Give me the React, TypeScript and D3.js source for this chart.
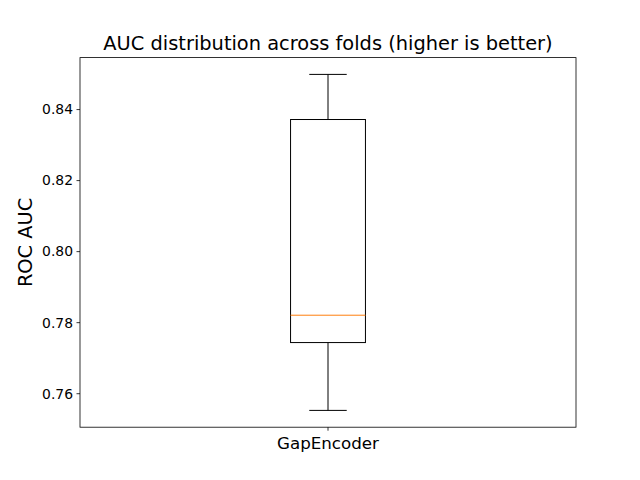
import React from "react";
import * as d3 from "d3";

const categories = ["GapEncoder"];
const whiskerLow = [0.7553];
const q1 = [0.7744];
const median = [0.7821];
const q3 = [0.8372];
const whiskerHigh = [0.8499];
const yTicks = [0.76, 0.78, 0.8, 0.82, 0.84];

const W = 640, H = 480;
const L = 80, R = 576, T = 57.6, B = 427.2;

export default function App() {
  const lo = d3.min(whiskerLow)!, hi = d3.max(whiskerHigh)!;
  const pad = (hi - lo) * 0.05;
  const y = d3.scaleLinear().domain([lo - pad, hi + pad]).range([B, T]);
  const x = d3.scaleLinear().domain([-1, 1]).range([L, R]);
  const boxHalf = 0.151; // in x units
  const font = "DejaVu Sans, sans-serif";
  return (
    <svg width={W} height={H} style={{ position: "absolute", left: 0, top: 0 }} fontFamily={font}>
      <rect x={0} y={0} width={W} height={H} fill="white" />
      <text x={(L + R) / 2} y={50} textAnchor="middle" fontSize={19.4}>
        AUC distribution across folds (higher is better)
      </text>
      {categories.map((c, i) => {
        const cx = x(i);
        const bw = x(boxHalf) - x(0);
        const cw = bw / 2;
        return (
          <g key={c} stroke="black" strokeWidth={1} fill="none">
            <line x1={cx} x2={cx} y1={y(whiskerLow[i])} y2={y(q1[i])} />
            <line x1={cx} x2={cx} y1={y(q3[i])} y2={y(whiskerHigh[i])} />
            <line x1={cx - cw} x2={cx + cw} y1={y(whiskerLow[i])} y2={y(whiskerLow[i])} />
            <line x1={cx - cw} x2={cx + cw} y1={y(whiskerHigh[i])} y2={y(whiskerHigh[i])} />
            <rect x={cx - bw} y={y(q3[i])} width={2 * bw} height={y(q1[i]) - y(q3[i])} />
            <line x1={cx - bw} x2={cx + bw} y1={y(median[i])} y2={y(median[i])} stroke="#ff7f0e" />
          </g>
        );
      })}
      <rect x={L} y={T} width={R - L} height={B - T} fill="none" stroke="black" strokeWidth={0.8} />
      {yTicks.map((t) => (
        <g key={t}>
          <line x1={L - 3.5} x2={L} y1={y(t)} y2={y(t)} stroke="black" strokeWidth={0.8} />
          <text x={L - 7} y={y(t)} dy="0.35em" textAnchor="end" fontSize={13.9}>
            {d3.format(".2f")(t)}
          </text>
        </g>
      ))}
      {categories.map((c, i) => (
        <g key={c}>
          <line x1={x(i)} x2={x(i)} y1={B} y2={B + 3.5} stroke="black" strokeWidth={0.8} />
          <text x={x(i)} y={B + 22} textAnchor="middle" fontSize={16.7}>
            {c}
          </text>
        </g>
      ))}
      <text transform={`translate(32, ${(T + B) / 2}) rotate(-90)`} textAnchor="middle" fontSize={19.4}>
        ROC AUC
      </text>
    </svg>
  );
}
